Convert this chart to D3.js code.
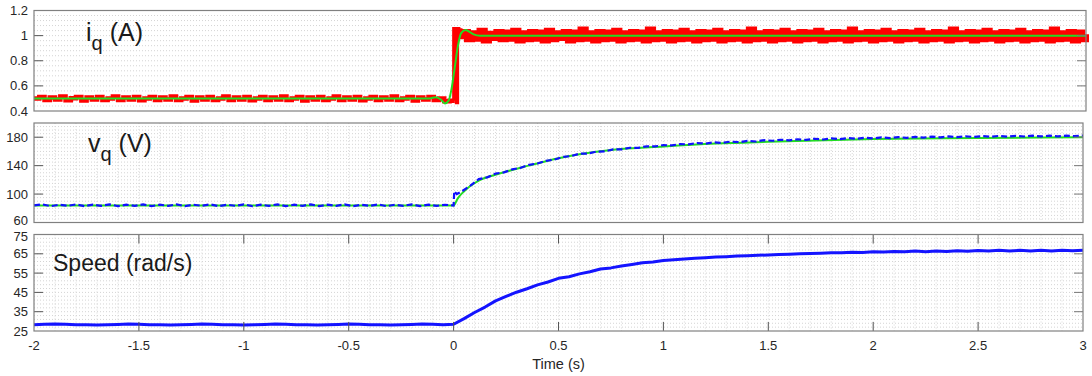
<!DOCTYPE html>
<html><head><meta charset="utf-8">
<script src="https://cdn.jsdelivr.net/npm/d3@7/dist/d3.min.js"></script>
<style>
html,body{margin:0;padding:0;background:#fff;}
svg{display:block;font-family:"Liberation Sans",Arial,sans-serif;}
</style></head>
<body>
<svg id="chart" width="1092" height="376"></svg>
<script>
// ---------------- DATA ----------------
const xTicks = [-2,-1.5,-1,-0.5,0,0.5,1,1.5,2,2.5,3];
const xTickLabels = ["-2","-1.5","-1","-0.5","0","0.5","1","1.5","2","2.5","3"];
const iqTicks = [0.4,0.6,0.8,1,1.2];
const iqTickLabels = ["0.4","0.6","0.8","1","1.2"];
const vqTicks = [60,100,140,180];
const vqTickLabels = ["60","100","140","180"];
const spTicks = [25,35,45,55,65,75];
const spTickLabels = ["25","35","45","55","65","75"];

// iq measured (red): before step, sampled every 0.025 s from -2 to 0
const iqRedPre = [0.500,0.512,0.488,0.508,0.492,0.516,0.486,0.502,0.512,0.484,0.508,0.492,0.512,0.488,0.500,0.516,0.488,0.508,0.492,0.512,
0.486,0.500,0.512,0.488,0.508,0.492,0.516,0.488,0.500,0.512,0.484,0.508,0.492,0.512,0.488,0.500,0.516,0.488,0.508,0.492,
0.512,0.486,0.500,0.512,0.488,0.508,0.492,0.516,0.488,0.500,0.512,0.484,0.508,0.492,0.512,0.488,0.500,0.516,0.488,0.508,
0.492,0.512,0.486,0.500,0.512,0.488,0.508,0.492,0.516,0.488,0.500,0.512,0.484,0.508,0.492,0.512,0.488,0.500,0.478,0.482,0.482];
// step transition (explicit times)
const iqRedStepT = [0.004,0.010,0.015];
const iqRedStepV = [1.04,1.00,1.03];
// after step, sampled every 0.02 s from 0.02 to 3.00
const iqRedPost = [1.000,1.025,0.975,1.015,0.980,1.035,0.965,1.010,0.985,1.025,
0.975,1.020,0.980,1.035,0.965,1.015,0.975,1.025,0.980,1.020,
0.965,1.035,0.975,1.015,0.985,1.025,0.965,1.020,0.975,1.045,
0.980,1.015,0.965,1.025,0.975,1.020,0.980,1.035,0.965,1.015,
0.975,1.025,0.980,1.020,0.965,1.045,0.975,1.015,0.980,1.025,
0.965,1.020,0.975,1.035,0.980,1.015,0.965,1.025,0.975,1.020,
0.980,1.035,0.965,1.015,0.975,1.025,0.980,1.020,0.965,1.045,
0.975,1.015,0.980,1.025,0.965,1.020,0.975,1.035,0.980,1.015,
0.965,1.025,0.975,1.020,0.980,1.035,0.965,1.015,0.975,1.025,
0.980,1.020,0.965,1.045,0.975,1.015,0.980,1.025,0.965,1.020,
0.975,1.035,0.980,1.015,0.965,1.025,0.975,1.020,0.980,1.035,
0.965,1.015,0.975,1.025,0.980,1.020,0.965,1.045,0.975,1.015,
0.980,1.025,0.965,1.020,0.975,1.035,0.980,1.015,0.965,1.025,
0.975,1.020,0.980,1.035,0.965,1.015,0.975,1.025,0.980,1.020,
0.965,1.045,0.975,1.015,0.980,1.025,0.965,1.020,0.975,1.010];

// iq reference (green)
const iqRefT = [-2,-0.12,-0.09,-0.065,-0.047,-0.03,-0.015,0,0.015,0.03,0.05,0.07,0.09,0.12,0.2,3];
const iqRefV = [0.50,0.50,0.51,0.49,0.46,0.48,0.58,0.75,0.92,1.02,1.045,1.03,1.01,1.0,1.0,1.0];

// vq measured (blue): before step every 0.04 s from -2 to 0
const vqBluePre = [84,85.5,83,85,83.5,85.5,83,85,83.5,85.5,
83,85,83.5,85.5,83,85,83.5,85.5,83,85,
83.5,85.5,83,85,83.5,85.5,83,85,83.5,85.5,
83,85,83.5,85.5,83,85,83.5,85.5,83,85,
83.5,85.5,83,85,83.5,85.5,83,85,83.5,85,84];
const vqBlueStepT = [0.003,0.015];
const vqBlueStepV = [104,100];
// after step every 0.04 s from 0.04 to 3.00
const vqBluePost = [104,112,121,123.5,128.8,130.5,134.8,137,141.2,143,
146.8,148.5,152.2,153.5,156.8,157,159.8,160,162.8,163,
165.2,165,167.2,167,168.8,168.5,170.2,170,171.8,171,
172.8,172,173.8,173,174.8,174,175.8,175,176.4,175.6,
177.1,176.2,177.8,176.8,178.3,177.3,178.8,177.8,179.3,178.2,
179.7,178.7,180.1,179.1,180.5,179.5,180.8,179.8,181.1,180.1,
181.3,180.3,181.6,180.6,181.8,180.8,182,181,182.1,181.1,
182.2,181.2,182.3,181.4,182.3];

// vq reference (green)
const vqRefT = [-2,-0.01,0,0.02,0.05,0.12,0.215,0.357,0.5,0.6,0.75,1.0,1.25,1.5,2,2.5,3];
const vqRefV = [84,84,84,94,104,119,128.5,140,150.5,156,162,167,171,173.5,177.5,179,180];

// speed (blue): every 0.05 s from -2 to 3
const speedV = [28.3,28.5,28.6,28.5,28.3,28.2,28.1,28.2,28.4,28.6,
28.5,28.3,28.2,28.1,28.2,28.4,28.6,28.5,28.3,28.2,
28.1,28.2,28.4,28.6,28.5,28.3,28.2,28.1,28.2,28.4,
28.6,28.5,28.3,28.2,28.1,28.2,28.4,28.6,28.5,28.3,
28.5,
31.4,34.6,37.4,40.6,42.9,45.1,46.9,48.9,50.4,52.3,
53.1,54.6,55.7,57.1,57.7,58.7,59.5,60.4,60.7,61.5,
61.9,62.3,62.7,63.0,63.3,63.5,63.8,64.0,64.2,64.4,
64.6,64.8,65.0,65.2,65.3,65.5,65.5,65.8,65.7,66.0,
65.9,66.2,66.0,66.4,66.1,66.5,66.2,66.6,66.3,66.7,
66.4,66.8,66.4,66.8,66.5,66.9,66.5,66.9,66.6,66.9];

// ---------------- DRAW ----------------
const svg = d3.select("#chart");
const panels = [
  {x0:34,x1:1086,y0:10.5,y1:111,dom:[0.4,1.2],ticks:iqTicks,labels:iqTickLabels,minor:0.04,vgrid:false,xt:false,lblShift:[0,0]},
  {x0:34,x1:1083,y0:123,y1:222.5,dom:[60,200],ticks:vqTicks,labels:vqTickLabels,minor:5,vgrid:true,xt:false,lblShift:[-2.5,0]},
  {x0:34,x1:1083,y0:234.5,y1:331,dom:[25,75],ticks:spTicks,labels:spTickLabels,minor:2,vgrid:true,xt:true,lblShift:[0,1.5]}
];
panels.forEach(p=>{
  p.x = d3.scaleLinear().domain([-2,3]).range([p.x0,p.x1]);
  p.y = d3.scaleLinear().domain(p.dom).range([p.y1,p.y0]);
  const g = svg.append("g");
  p.g = g;
  g.append("rect").attr("x",p.x0).attr("y",p.y0).attr("width",p.x1-p.x0).attr("height",p.y1-p.y0).attr("fill","#fff");
  const hv = d3.range(p.dom[0]+p.minor, p.dom[1]-p.minor*0.5, p.minor);
  g.selectAll(".hg").data(hv).enter().append("line")
    .attr("x1",p.x0).attr("x2",p.x1).attr("y1",d=>p.y(d)).attr("y2",d=>p.y(d))
    .attr("stroke","#d4d4d4").attr("stroke-width",1).attr("stroke-dasharray","1,2");
  if(p.vgrid){
    const vv = d3.range(-1.9,2.95,0.1);
    g.selectAll(".vg").data(vv).enter().append("line")
      .attr("y1",p.y0).attr("y2",p.y1).attr("x1",d=>p.x(d)).attr("x2",d=>p.x(d))
      .attr("stroke","#dadada").attr("stroke-width",1).attr("stroke-dasharray","1,2");
  }
  const clip = "clip"+Math.round(p.y0);
  svg.append("clipPath").attr("id",clip).append("rect").attr("x",p.x0-3).attr("y",p.y0).attr("width",p.x1-p.x0+6).attr("height",p.y1-p.y0);
  p.plot = g.append("g").attr("clip-path",`url(#${clip})`);
});

const P1 = panels[0], P2 = panels[1], P3 = panels[2];

// panel 1 lines
const tPre1 = d3.range(0,iqRedPre.length).map(i=>-2+i*0.025);
const tPost1 = d3.range(0,iqRedPost.length).map(i=>0.02+i*0.02);
const redPre = tPre1.map((t,i)=>[t,iqRedPre[i]]);
const redPost = [[0.0,iqRedPre[iqRedPre.length-1]]].concat(iqRedStepT.map((t,i)=>[t,iqRedStepV[i]]))
  .concat(tPost1.map((t,i)=>[t,iqRedPost[i]]));
const line1 = d3.line().x(d=>P1.x(d[0])).y(d=>P1.y(d[1])).curve(d3.curveStepAfter);
P1.plot.append("path").attr("d",line1(redPre)).attr("fill","none").attr("stroke","#ff0000").attr("stroke-width",4.5);
P1.plot.append("path").attr("d",line1(redPost)).attr("fill","none").attr("stroke","#ff0000").attr("stroke-width",7);
const line1g = d3.line().x(d=>P1.x(d[0])).y(d=>P1.y(d[1])).curve(d3.curveMonotoneX);
P1.plot.append("path").attr("d",line1g(iqRefT.map((t,i)=>[t,iqRefV[i]]))).attr("fill","none").attr("stroke","#22dd22").attr("stroke-width",2);

// panel 2 lines
const line2g = d3.line().x(d=>P2.x(d[0])).y(d=>P2.y(d[1])).curve(d3.curveMonotoneX);
P2.plot.append("path").attr("d",line2g(vqRefT.map((t,i)=>[t,vqRefV[i]]))).attr("fill","none").attr("stroke","#22dd22").attr("stroke-width",2);
const tPre2 = d3.range(0,vqBluePre.length).map(i=>-2+i*0.04);
const tPost2 = d3.range(0,vqBluePost.length).map(i=>0.04+i*0.04);
const vqBlue = tPre2.map((t,i)=>[t,vqBluePre[i]])
  .concat(vqBlueStepT.map((t,i)=>[t,vqBlueStepV[i]]))
  .concat(tPost2.map((t,i)=>[t,vqBluePost[i]]));
const line2 = d3.line().x(d=>P2.x(d[0])).y(d=>P2.y(d[1]));
P2.plot.append("path").attr("d",line2(vqBlue)).attr("fill","none").attr("stroke","#1010ff").attr("stroke-width",2.2).attr("stroke-dasharray","6,3");

// panel 3 line
const tSp = d3.range(0,speedV.length).map(i=>-2+i*0.05);
const line3 = d3.line().x(d=>P3.x(d[0])).y(d=>P3.y(d[1]));
P3.plot.append("path").attr("d",line3(tSp.map((t,i)=>[t,speedV[i]]))).attr("fill","none").attr("stroke","#1414ff").attr("stroke-width",3).attr("stroke-linejoin","round");

// frames, ticks, labels
panels.forEach(p=>{
  const g = p.g;
  p.ticks.forEach((v,i)=>{
    const yy = p.y(v);
    if(v!==p.dom[0] && v!==p.dom[1]){
      g.append("line").attr("x1",p.x0).attr("x2",p.x0+9).attr("y1",yy).attr("y2",yy).attr("stroke","#555").attr("stroke-width",1);
      g.append("line").attr("x1",p.x1).attr("x2",p.x1-9).attr("y1",yy).attr("y2",yy).attr("stroke","#777").attr("stroke-width",1);
    }
    let sh = 0;
    if(i===0) sh = p.lblShift[0];
    if(i===p.ticks.length-1) sh = p.lblShift[1];
    g.append("text").attr("x",p.x0-6).attr("y",yy+sh).attr("dy","0.35em").attr("text-anchor","end")
      .attr("font-size",13).attr("fill","#262626").text(p.labels[i]);
  });
  if(p.xt){
    xTicks.forEach((v,i)=>{
      const xx = p.x(v);
      if(i>0 && i<xTicks.length-1){
        g.append("line").attr("x1",xx).attr("x2",xx).attr("y1",p.y1).attr("y2",p.y1-9).attr("stroke","#555");
        g.append("line").attr("x1",xx).attr("x2",xx).attr("y1",p.y0).attr("y2",p.y0+9).attr("stroke","#555");
      }
      g.append("text").attr("x",xx).attr("y",p.y1+19).attr("text-anchor","middle")
        .attr("font-size",13).attr("fill","#262626").text(xTickLabels[i]);
    });
  }
  g.append("rect").attr("x",p.x0).attr("y",p.y0).attr("width",p.x1-p.x0).attr("height",p.y1-p.y0)
    .attr("fill","none").attr("stroke","#808080").attr("stroke-width",1.2);
});

// axis title
svg.append("text").attr("x",(P3.x0+P3.x1)/2).attr("y",369).attr("text-anchor","middle")
  .attr("font-size",14.5).attr("fill","#262626").text("Time (s)");

// panel labels
const lab1 = svg.append("text").attr("x",86).attr("y",41).attr("font-size",25).attr("fill","#1a1a1a");
lab1.append("tspan").text("i");
lab1.append("tspan").attr("dy",9).attr("font-size",20).text("q");
lab1.append("tspan").attr("dy",-9).text(" (A)");
const lab2 = svg.append("text").attr("x",88).attr("y",152).attr("font-size",25).attr("fill","#1a1a1a");
lab2.append("tspan").text("v");
lab2.append("tspan").attr("dy",9).attr("font-size",20).text("q");
lab2.append("tspan").attr("dy",-9).text(" (V)");
svg.append("text").attr("x",53).attr("y",271).attr("font-size",23).attr("fill","#1a1a1a").text("Speed (rad/s)");
</script>
</body></html>
